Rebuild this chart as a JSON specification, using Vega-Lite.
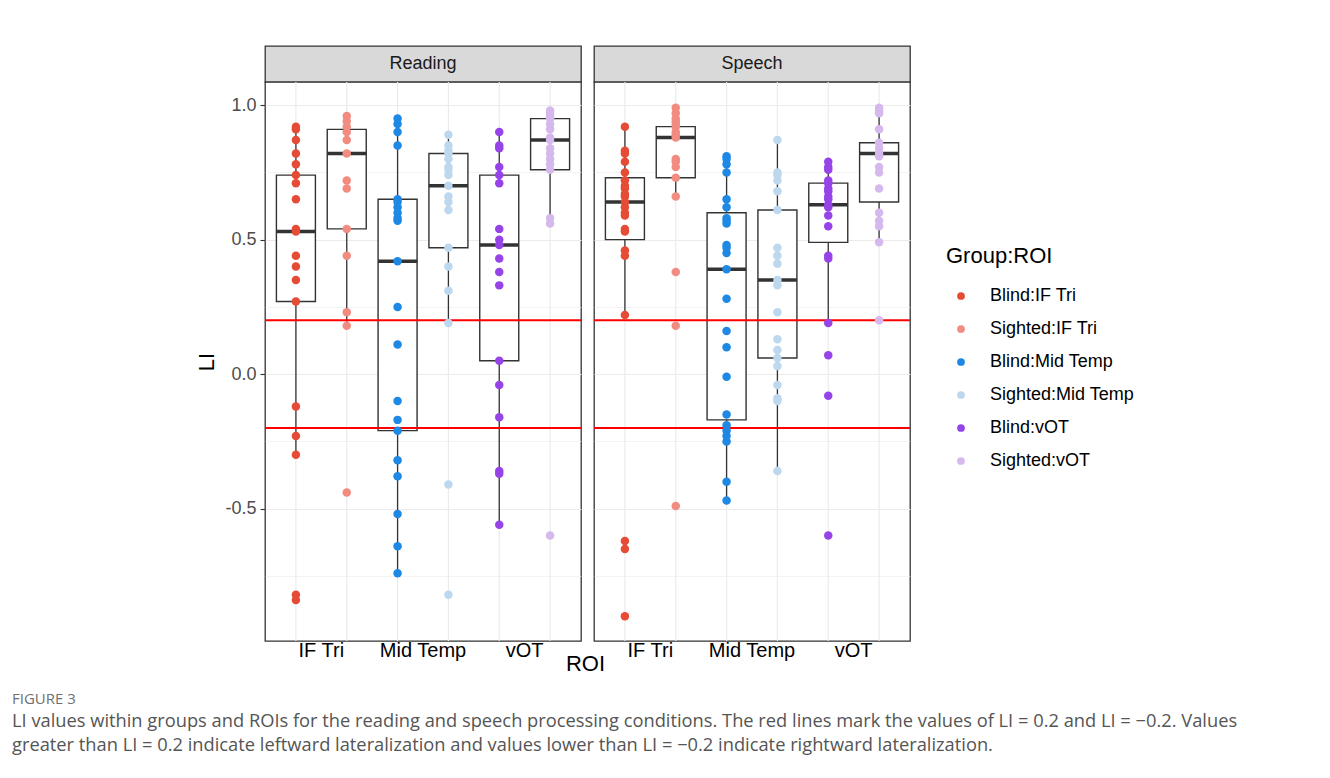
{
  "$schema": "https://vega.github.io/schema/vega-lite/v6.json",
  "autosize": {"type": "pad"},
  "padding": {"left": 12, "top": 45, "right": 5, "bottom": 5},
  "background": "white",
  "config": {
    "font": "Liberation Sans",
    "view": {"stroke": null},
    "legend": {
      "titleFontSize": 22, "titleFontWeight": "normal", "titleColor": "black", "titleFont": "Liberation Sans",
      "labelFontSize": 18, "labelColor": "black", "labelFont": "Liberation Sans",
      "symbolType": "circle", "symbolSize": 60, "symbolStrokeWidth": 0,
      "rowPadding": 15, "labelOffset": 20, "titlePadding": 19, "padding": 0, "symbolOffset": 6
    }
  },
  "datasets": {
    "pts": [
      {"Condition":"Reading","ROI":"IF Tri","Group":"Blind","Key":"Blind:IF Tri","LI":0.92},
      {"Condition":"Reading","ROI":"IF Tri","Group":"Blind","Key":"Blind:IF Tri","LI":0.91},
      {"Condition":"Reading","ROI":"IF Tri","Group":"Blind","Key":"Blind:IF Tri","LI":0.87},
      {"Condition":"Reading","ROI":"IF Tri","Group":"Blind","Key":"Blind:IF Tri","LI":0.82},
      {"Condition":"Reading","ROI":"IF Tri","Group":"Blind","Key":"Blind:IF Tri","LI":0.78},
      {"Condition":"Reading","ROI":"IF Tri","Group":"Blind","Key":"Blind:IF Tri","LI":0.74},
      {"Condition":"Reading","ROI":"IF Tri","Group":"Blind","Key":"Blind:IF Tri","LI":0.71},
      {"Condition":"Reading","ROI":"IF Tri","Group":"Blind","Key":"Blind:IF Tri","LI":0.65},
      {"Condition":"Reading","ROI":"IF Tri","Group":"Blind","Key":"Blind:IF Tri","LI":0.54},
      {"Condition":"Reading","ROI":"IF Tri","Group":"Blind","Key":"Blind:IF Tri","LI":0.53},
      {"Condition":"Reading","ROI":"IF Tri","Group":"Blind","Key":"Blind:IF Tri","LI":0.44},
      {"Condition":"Reading","ROI":"IF Tri","Group":"Blind","Key":"Blind:IF Tri","LI":0.40},
      {"Condition":"Reading","ROI":"IF Tri","Group":"Blind","Key":"Blind:IF Tri","LI":0.35},
      {"Condition":"Reading","ROI":"IF Tri","Group":"Blind","Key":"Blind:IF Tri","LI":0.27},
      {"Condition":"Reading","ROI":"IF Tri","Group":"Blind","Key":"Blind:IF Tri","LI":-0.12},
      {"Condition":"Reading","ROI":"IF Tri","Group":"Blind","Key":"Blind:IF Tri","LI":-0.23},
      {"Condition":"Reading","ROI":"IF Tri","Group":"Blind","Key":"Blind:IF Tri","LI":-0.30},
      {"Condition":"Reading","ROI":"IF Tri","Group":"Blind","Key":"Blind:IF Tri","LI":-0.82},
      {"Condition":"Reading","ROI":"IF Tri","Group":"Blind","Key":"Blind:IF Tri","LI":-0.84},
      {"Condition":"Reading","ROI":"IF Tri","Group":"Sighted","Key":"Sighted:IF Tri","LI":0.96},
      {"Condition":"Reading","ROI":"IF Tri","Group":"Sighted","Key":"Sighted:IF Tri","LI":0.94},
      {"Condition":"Reading","ROI":"IF Tri","Group":"Sighted","Key":"Sighted:IF Tri","LI":0.92},
      {"Condition":"Reading","ROI":"IF Tri","Group":"Sighted","Key":"Sighted:IF Tri","LI":0.90},
      {"Condition":"Reading","ROI":"IF Tri","Group":"Sighted","Key":"Sighted:IF Tri","LI":0.87},
      {"Condition":"Reading","ROI":"IF Tri","Group":"Sighted","Key":"Sighted:IF Tri","LI":0.82},
      {"Condition":"Reading","ROI":"IF Tri","Group":"Sighted","Key":"Sighted:IF Tri","LI":0.72},
      {"Condition":"Reading","ROI":"IF Tri","Group":"Sighted","Key":"Sighted:IF Tri","LI":0.69},
      {"Condition":"Reading","ROI":"IF Tri","Group":"Sighted","Key":"Sighted:IF Tri","LI":0.54},
      {"Condition":"Reading","ROI":"IF Tri","Group":"Sighted","Key":"Sighted:IF Tri","LI":0.44},
      {"Condition":"Reading","ROI":"IF Tri","Group":"Sighted","Key":"Sighted:IF Tri","LI":0.23},
      {"Condition":"Reading","ROI":"IF Tri","Group":"Sighted","Key":"Sighted:IF Tri","LI":0.18},
      {"Condition":"Reading","ROI":"IF Tri","Group":"Sighted","Key":"Sighted:IF Tri","LI":-0.44},
      {"Condition":"Reading","ROI":"Mid Temp","Group":"Blind","Key":"Blind:Mid Temp","LI":0.95},
      {"Condition":"Reading","ROI":"Mid Temp","Group":"Blind","Key":"Blind:Mid Temp","LI":0.93},
      {"Condition":"Reading","ROI":"Mid Temp","Group":"Blind","Key":"Blind:Mid Temp","LI":0.90},
      {"Condition":"Reading","ROI":"Mid Temp","Group":"Blind","Key":"Blind:Mid Temp","LI":0.85},
      {"Condition":"Reading","ROI":"Mid Temp","Group":"Blind","Key":"Blind:Mid Temp","LI":0.65},
      {"Condition":"Reading","ROI":"Mid Temp","Group":"Blind","Key":"Blind:Mid Temp","LI":0.64},
      {"Condition":"Reading","ROI":"Mid Temp","Group":"Blind","Key":"Blind:Mid Temp","LI":0.62},
      {"Condition":"Reading","ROI":"Mid Temp","Group":"Blind","Key":"Blind:Mid Temp","LI":0.60},
      {"Condition":"Reading","ROI":"Mid Temp","Group":"Blind","Key":"Blind:Mid Temp","LI":0.58},
      {"Condition":"Reading","ROI":"Mid Temp","Group":"Blind","Key":"Blind:Mid Temp","LI":0.57},
      {"Condition":"Reading","ROI":"Mid Temp","Group":"Blind","Key":"Blind:Mid Temp","LI":0.42},
      {"Condition":"Reading","ROI":"Mid Temp","Group":"Blind","Key":"Blind:Mid Temp","LI":0.25},
      {"Condition":"Reading","ROI":"Mid Temp","Group":"Blind","Key":"Blind:Mid Temp","LI":0.11},
      {"Condition":"Reading","ROI":"Mid Temp","Group":"Blind","Key":"Blind:Mid Temp","LI":-0.10},
      {"Condition":"Reading","ROI":"Mid Temp","Group":"Blind","Key":"Blind:Mid Temp","LI":-0.17},
      {"Condition":"Reading","ROI":"Mid Temp","Group":"Blind","Key":"Blind:Mid Temp","LI":-0.21},
      {"Condition":"Reading","ROI":"Mid Temp","Group":"Blind","Key":"Blind:Mid Temp","LI":-0.32},
      {"Condition":"Reading","ROI":"Mid Temp","Group":"Blind","Key":"Blind:Mid Temp","LI":-0.38},
      {"Condition":"Reading","ROI":"Mid Temp","Group":"Blind","Key":"Blind:Mid Temp","LI":-0.52},
      {"Condition":"Reading","ROI":"Mid Temp","Group":"Blind","Key":"Blind:Mid Temp","LI":-0.64},
      {"Condition":"Reading","ROI":"Mid Temp","Group":"Blind","Key":"Blind:Mid Temp","LI":-0.74},
      {"Condition":"Reading","ROI":"Mid Temp","Group":"Sighted","Key":"Sighted:Mid Temp","LI":0.89},
      {"Condition":"Reading","ROI":"Mid Temp","Group":"Sighted","Key":"Sighted:Mid Temp","LI":0.85},
      {"Condition":"Reading","ROI":"Mid Temp","Group":"Sighted","Key":"Sighted:Mid Temp","LI":0.83},
      {"Condition":"Reading","ROI":"Mid Temp","Group":"Sighted","Key":"Sighted:Mid Temp","LI":0.82},
      {"Condition":"Reading","ROI":"Mid Temp","Group":"Sighted","Key":"Sighted:Mid Temp","LI":0.80},
      {"Condition":"Reading","ROI":"Mid Temp","Group":"Sighted","Key":"Sighted:Mid Temp","LI":0.77},
      {"Condition":"Reading","ROI":"Mid Temp","Group":"Sighted","Key":"Sighted:Mid Temp","LI":0.76},
      {"Condition":"Reading","ROI":"Mid Temp","Group":"Sighted","Key":"Sighted:Mid Temp","LI":0.74},
      {"Condition":"Reading","ROI":"Mid Temp","Group":"Sighted","Key":"Sighted:Mid Temp","LI":0.70},
      {"Condition":"Reading","ROI":"Mid Temp","Group":"Sighted","Key":"Sighted:Mid Temp","LI":0.66},
      {"Condition":"Reading","ROI":"Mid Temp","Group":"Sighted","Key":"Sighted:Mid Temp","LI":0.64},
      {"Condition":"Reading","ROI":"Mid Temp","Group":"Sighted","Key":"Sighted:Mid Temp","LI":0.61},
      {"Condition":"Reading","ROI":"Mid Temp","Group":"Sighted","Key":"Sighted:Mid Temp","LI":0.47},
      {"Condition":"Reading","ROI":"Mid Temp","Group":"Sighted","Key":"Sighted:Mid Temp","LI":0.40},
      {"Condition":"Reading","ROI":"Mid Temp","Group":"Sighted","Key":"Sighted:Mid Temp","LI":0.31},
      {"Condition":"Reading","ROI":"Mid Temp","Group":"Sighted","Key":"Sighted:Mid Temp","LI":0.19},
      {"Condition":"Reading","ROI":"Mid Temp","Group":"Sighted","Key":"Sighted:Mid Temp","LI":-0.41},
      {"Condition":"Reading","ROI":"Mid Temp","Group":"Sighted","Key":"Sighted:Mid Temp","LI":-0.82},
      {"Condition":"Reading","ROI":"vOT","Group":"Blind","Key":"Blind:vOT","LI":0.90},
      {"Condition":"Reading","ROI":"vOT","Group":"Blind","Key":"Blind:vOT","LI":0.85},
      {"Condition":"Reading","ROI":"vOT","Group":"Blind","Key":"Blind:vOT","LI":0.84},
      {"Condition":"Reading","ROI":"vOT","Group":"Blind","Key":"Blind:vOT","LI":0.77},
      {"Condition":"Reading","ROI":"vOT","Group":"Blind","Key":"Blind:vOT","LI":0.74},
      {"Condition":"Reading","ROI":"vOT","Group":"Blind","Key":"Blind:vOT","LI":0.71},
      {"Condition":"Reading","ROI":"vOT","Group":"Blind","Key":"Blind:vOT","LI":0.54},
      {"Condition":"Reading","ROI":"vOT","Group":"Blind","Key":"Blind:vOT","LI":0.50},
      {"Condition":"Reading","ROI":"vOT","Group":"Blind","Key":"Blind:vOT","LI":0.48},
      {"Condition":"Reading","ROI":"vOT","Group":"Blind","Key":"Blind:vOT","LI":0.43},
      {"Condition":"Reading","ROI":"vOT","Group":"Blind","Key":"Blind:vOT","LI":0.38},
      {"Condition":"Reading","ROI":"vOT","Group":"Blind","Key":"Blind:vOT","LI":0.33},
      {"Condition":"Reading","ROI":"vOT","Group":"Blind","Key":"Blind:vOT","LI":0.05},
      {"Condition":"Reading","ROI":"vOT","Group":"Blind","Key":"Blind:vOT","LI":-0.04},
      {"Condition":"Reading","ROI":"vOT","Group":"Blind","Key":"Blind:vOT","LI":-0.16},
      {"Condition":"Reading","ROI":"vOT","Group":"Blind","Key":"Blind:vOT","LI":-0.36},
      {"Condition":"Reading","ROI":"vOT","Group":"Blind","Key":"Blind:vOT","LI":-0.37},
      {"Condition":"Reading","ROI":"vOT","Group":"Blind","Key":"Blind:vOT","LI":-0.56},
      {"Condition":"Reading","ROI":"vOT","Group":"Sighted","Key":"Sighted:vOT","LI":0.98},
      {"Condition":"Reading","ROI":"vOT","Group":"Sighted","Key":"Sighted:vOT","LI":0.97},
      {"Condition":"Reading","ROI":"vOT","Group":"Sighted","Key":"Sighted:vOT","LI":0.96},
      {"Condition":"Reading","ROI":"vOT","Group":"Sighted","Key":"Sighted:vOT","LI":0.95},
      {"Condition":"Reading","ROI":"vOT","Group":"Sighted","Key":"Sighted:vOT","LI":0.93},
      {"Condition":"Reading","ROI":"vOT","Group":"Sighted","Key":"Sighted:vOT","LI":0.91},
      {"Condition":"Reading","ROI":"vOT","Group":"Sighted","Key":"Sighted:vOT","LI":0.88},
      {"Condition":"Reading","ROI":"vOT","Group":"Sighted","Key":"Sighted:vOT","LI":0.87},
      {"Condition":"Reading","ROI":"vOT","Group":"Sighted","Key":"Sighted:vOT","LI":0.84},
      {"Condition":"Reading","ROI":"vOT","Group":"Sighted","Key":"Sighted:vOT","LI":0.82},
      {"Condition":"Reading","ROI":"vOT","Group":"Sighted","Key":"Sighted:vOT","LI":0.80},
      {"Condition":"Reading","ROI":"vOT","Group":"Sighted","Key":"Sighted:vOT","LI":0.78},
      {"Condition":"Reading","ROI":"vOT","Group":"Sighted","Key":"Sighted:vOT","LI":0.76},
      {"Condition":"Reading","ROI":"vOT","Group":"Sighted","Key":"Sighted:vOT","LI":0.58},
      {"Condition":"Reading","ROI":"vOT","Group":"Sighted","Key":"Sighted:vOT","LI":0.56},
      {"Condition":"Reading","ROI":"vOT","Group":"Sighted","Key":"Sighted:vOT","LI":-0.60},
      {"Condition":"Speech","ROI":"IF Tri","Group":"Blind","Key":"Blind:IF Tri","LI":0.92},
      {"Condition":"Speech","ROI":"IF Tri","Group":"Blind","Key":"Blind:IF Tri","LI":0.83},
      {"Condition":"Speech","ROI":"IF Tri","Group":"Blind","Key":"Blind:IF Tri","LI":0.82},
      {"Condition":"Speech","ROI":"IF Tri","Group":"Blind","Key":"Blind:IF Tri","LI":0.79},
      {"Condition":"Speech","ROI":"IF Tri","Group":"Blind","Key":"Blind:IF Tri","LI":0.75},
      {"Condition":"Speech","ROI":"IF Tri","Group":"Blind","Key":"Blind:IF Tri","LI":0.72},
      {"Condition":"Speech","ROI":"IF Tri","Group":"Blind","Key":"Blind:IF Tri","LI":0.70},
      {"Condition":"Speech","ROI":"IF Tri","Group":"Blind","Key":"Blind:IF Tri","LI":0.69},
      {"Condition":"Speech","ROI":"IF Tri","Group":"Blind","Key":"Blind:IF Tri","LI":0.67},
      {"Condition":"Speech","ROI":"IF Tri","Group":"Blind","Key":"Blind:IF Tri","LI":0.66},
      {"Condition":"Speech","ROI":"IF Tri","Group":"Blind","Key":"Blind:IF Tri","LI":0.64},
      {"Condition":"Speech","ROI":"IF Tri","Group":"Blind","Key":"Blind:IF Tri","LI":0.62},
      {"Condition":"Speech","ROI":"IF Tri","Group":"Blind","Key":"Blind:IF Tri","LI":0.60},
      {"Condition":"Speech","ROI":"IF Tri","Group":"Blind","Key":"Blind:IF Tri","LI":0.59},
      {"Condition":"Speech","ROI":"IF Tri","Group":"Blind","Key":"Blind:IF Tri","LI":0.54},
      {"Condition":"Speech","ROI":"IF Tri","Group":"Blind","Key":"Blind:IF Tri","LI":0.53},
      {"Condition":"Speech","ROI":"IF Tri","Group":"Blind","Key":"Blind:IF Tri","LI":0.46},
      {"Condition":"Speech","ROI":"IF Tri","Group":"Blind","Key":"Blind:IF Tri","LI":0.44},
      {"Condition":"Speech","ROI":"IF Tri","Group":"Blind","Key":"Blind:IF Tri","LI":0.22},
      {"Condition":"Speech","ROI":"IF Tri","Group":"Blind","Key":"Blind:IF Tri","LI":-0.62},
      {"Condition":"Speech","ROI":"IF Tri","Group":"Blind","Key":"Blind:IF Tri","LI":-0.65},
      {"Condition":"Speech","ROI":"IF Tri","Group":"Blind","Key":"Blind:IF Tri","LI":-0.90},
      {"Condition":"Speech","ROI":"IF Tri","Group":"Sighted","Key":"Sighted:IF Tri","LI":0.99},
      {"Condition":"Speech","ROI":"IF Tri","Group":"Sighted","Key":"Sighted:IF Tri","LI":0.97},
      {"Condition":"Speech","ROI":"IF Tri","Group":"Sighted","Key":"Sighted:IF Tri","LI":0.95},
      {"Condition":"Speech","ROI":"IF Tri","Group":"Sighted","Key":"Sighted:IF Tri","LI":0.94},
      {"Condition":"Speech","ROI":"IF Tri","Group":"Sighted","Key":"Sighted:IF Tri","LI":0.93},
      {"Condition":"Speech","ROI":"IF Tri","Group":"Sighted","Key":"Sighted:IF Tri","LI":0.92},
      {"Condition":"Speech","ROI":"IF Tri","Group":"Sighted","Key":"Sighted:IF Tri","LI":0.90},
      {"Condition":"Speech","ROI":"IF Tri","Group":"Sighted","Key":"Sighted:IF Tri","LI":0.89},
      {"Condition":"Speech","ROI":"IF Tri","Group":"Sighted","Key":"Sighted:IF Tri","LI":0.88},
      {"Condition":"Speech","ROI":"IF Tri","Group":"Sighted","Key":"Sighted:IF Tri","LI":0.80},
      {"Condition":"Speech","ROI":"IF Tri","Group":"Sighted","Key":"Sighted:IF Tri","LI":0.79},
      {"Condition":"Speech","ROI":"IF Tri","Group":"Sighted","Key":"Sighted:IF Tri","LI":0.77},
      {"Condition":"Speech","ROI":"IF Tri","Group":"Sighted","Key":"Sighted:IF Tri","LI":0.73},
      {"Condition":"Speech","ROI":"IF Tri","Group":"Sighted","Key":"Sighted:IF Tri","LI":0.66},
      {"Condition":"Speech","ROI":"IF Tri","Group":"Sighted","Key":"Sighted:IF Tri","LI":0.38},
      {"Condition":"Speech","ROI":"IF Tri","Group":"Sighted","Key":"Sighted:IF Tri","LI":0.18},
      {"Condition":"Speech","ROI":"IF Tri","Group":"Sighted","Key":"Sighted:IF Tri","LI":-0.49},
      {"Condition":"Speech","ROI":"Mid Temp","Group":"Blind","Key":"Blind:Mid Temp","LI":0.81},
      {"Condition":"Speech","ROI":"Mid Temp","Group":"Blind","Key":"Blind:Mid Temp","LI":0.80},
      {"Condition":"Speech","ROI":"Mid Temp","Group":"Blind","Key":"Blind:Mid Temp","LI":0.78},
      {"Condition":"Speech","ROI":"Mid Temp","Group":"Blind","Key":"Blind:Mid Temp","LI":0.75},
      {"Condition":"Speech","ROI":"Mid Temp","Group":"Blind","Key":"Blind:Mid Temp","LI":0.65},
      {"Condition":"Speech","ROI":"Mid Temp","Group":"Blind","Key":"Blind:Mid Temp","LI":0.62},
      {"Condition":"Speech","ROI":"Mid Temp","Group":"Blind","Key":"Blind:Mid Temp","LI":0.58},
      {"Condition":"Speech","ROI":"Mid Temp","Group":"Blind","Key":"Blind:Mid Temp","LI":0.57},
      {"Condition":"Speech","ROI":"Mid Temp","Group":"Blind","Key":"Blind:Mid Temp","LI":0.56},
      {"Condition":"Speech","ROI":"Mid Temp","Group":"Blind","Key":"Blind:Mid Temp","LI":0.48},
      {"Condition":"Speech","ROI":"Mid Temp","Group":"Blind","Key":"Blind:Mid Temp","LI":0.47},
      {"Condition":"Speech","ROI":"Mid Temp","Group":"Blind","Key":"Blind:Mid Temp","LI":0.45},
      {"Condition":"Speech","ROI":"Mid Temp","Group":"Blind","Key":"Blind:Mid Temp","LI":0.39},
      {"Condition":"Speech","ROI":"Mid Temp","Group":"Blind","Key":"Blind:Mid Temp","LI":0.28},
      {"Condition":"Speech","ROI":"Mid Temp","Group":"Blind","Key":"Blind:Mid Temp","LI":0.16},
      {"Condition":"Speech","ROI":"Mid Temp","Group":"Blind","Key":"Blind:Mid Temp","LI":0.10},
      {"Condition":"Speech","ROI":"Mid Temp","Group":"Blind","Key":"Blind:Mid Temp","LI":-0.01},
      {"Condition":"Speech","ROI":"Mid Temp","Group":"Blind","Key":"Blind:Mid Temp","LI":-0.15},
      {"Condition":"Speech","ROI":"Mid Temp","Group":"Blind","Key":"Blind:Mid Temp","LI":-0.19},
      {"Condition":"Speech","ROI":"Mid Temp","Group":"Blind","Key":"Blind:Mid Temp","LI":-0.21},
      {"Condition":"Speech","ROI":"Mid Temp","Group":"Blind","Key":"Blind:Mid Temp","LI":-0.23},
      {"Condition":"Speech","ROI":"Mid Temp","Group":"Blind","Key":"Blind:Mid Temp","LI":-0.25},
      {"Condition":"Speech","ROI":"Mid Temp","Group":"Blind","Key":"Blind:Mid Temp","LI":-0.40},
      {"Condition":"Speech","ROI":"Mid Temp","Group":"Blind","Key":"Blind:Mid Temp","LI":-0.47},
      {"Condition":"Speech","ROI":"Mid Temp","Group":"Sighted","Key":"Sighted:Mid Temp","LI":0.87},
      {"Condition":"Speech","ROI":"Mid Temp","Group":"Sighted","Key":"Sighted:Mid Temp","LI":0.75},
      {"Condition":"Speech","ROI":"Mid Temp","Group":"Sighted","Key":"Sighted:Mid Temp","LI":0.74},
      {"Condition":"Speech","ROI":"Mid Temp","Group":"Sighted","Key":"Sighted:Mid Temp","LI":0.72},
      {"Condition":"Speech","ROI":"Mid Temp","Group":"Sighted","Key":"Sighted:Mid Temp","LI":0.68},
      {"Condition":"Speech","ROI":"Mid Temp","Group":"Sighted","Key":"Sighted:Mid Temp","LI":0.61},
      {"Condition":"Speech","ROI":"Mid Temp","Group":"Sighted","Key":"Sighted:Mid Temp","LI":0.47},
      {"Condition":"Speech","ROI":"Mid Temp","Group":"Sighted","Key":"Sighted:Mid Temp","LI":0.44},
      {"Condition":"Speech","ROI":"Mid Temp","Group":"Sighted","Key":"Sighted:Mid Temp","LI":0.41},
      {"Condition":"Speech","ROI":"Mid Temp","Group":"Sighted","Key":"Sighted:Mid Temp","LI":0.35},
      {"Condition":"Speech","ROI":"Mid Temp","Group":"Sighted","Key":"Sighted:Mid Temp","LI":0.33},
      {"Condition":"Speech","ROI":"Mid Temp","Group":"Sighted","Key":"Sighted:Mid Temp","LI":0.23},
      {"Condition":"Speech","ROI":"Mid Temp","Group":"Sighted","Key":"Sighted:Mid Temp","LI":0.13},
      {"Condition":"Speech","ROI":"Mid Temp","Group":"Sighted","Key":"Sighted:Mid Temp","LI":0.09},
      {"Condition":"Speech","ROI":"Mid Temp","Group":"Sighted","Key":"Sighted:Mid Temp","LI":0.06},
      {"Condition":"Speech","ROI":"Mid Temp","Group":"Sighted","Key":"Sighted:Mid Temp","LI":0.03},
      {"Condition":"Speech","ROI":"Mid Temp","Group":"Sighted","Key":"Sighted:Mid Temp","LI":-0.04},
      {"Condition":"Speech","ROI":"Mid Temp","Group":"Sighted","Key":"Sighted:Mid Temp","LI":-0.09},
      {"Condition":"Speech","ROI":"Mid Temp","Group":"Sighted","Key":"Sighted:Mid Temp","LI":-0.10},
      {"Condition":"Speech","ROI":"Mid Temp","Group":"Sighted","Key":"Sighted:Mid Temp","LI":-0.36},
      {"Condition":"Speech","ROI":"vOT","Group":"Blind","Key":"Blind:vOT","LI":0.79},
      {"Condition":"Speech","ROI":"vOT","Group":"Blind","Key":"Blind:vOT","LI":0.77},
      {"Condition":"Speech","ROI":"vOT","Group":"Blind","Key":"Blind:vOT","LI":0.76},
      {"Condition":"Speech","ROI":"vOT","Group":"Blind","Key":"Blind:vOT","LI":0.72},
      {"Condition":"Speech","ROI":"vOT","Group":"Blind","Key":"Blind:vOT","LI":0.71},
      {"Condition":"Speech","ROI":"vOT","Group":"Blind","Key":"Blind:vOT","LI":0.69},
      {"Condition":"Speech","ROI":"vOT","Group":"Blind","Key":"Blind:vOT","LI":0.68},
      {"Condition":"Speech","ROI":"vOT","Group":"Blind","Key":"Blind:vOT","LI":0.66},
      {"Condition":"Speech","ROI":"vOT","Group":"Blind","Key":"Blind:vOT","LI":0.65},
      {"Condition":"Speech","ROI":"vOT","Group":"Blind","Key":"Blind:vOT","LI":0.63},
      {"Condition":"Speech","ROI":"vOT","Group":"Blind","Key":"Blind:vOT","LI":0.62},
      {"Condition":"Speech","ROI":"vOT","Group":"Blind","Key":"Blind:vOT","LI":0.59},
      {"Condition":"Speech","ROI":"vOT","Group":"Blind","Key":"Blind:vOT","LI":0.55},
      {"Condition":"Speech","ROI":"vOT","Group":"Blind","Key":"Blind:vOT","LI":0.44},
      {"Condition":"Speech","ROI":"vOT","Group":"Blind","Key":"Blind:vOT","LI":0.43},
      {"Condition":"Speech","ROI":"vOT","Group":"Blind","Key":"Blind:vOT","LI":0.19},
      {"Condition":"Speech","ROI":"vOT","Group":"Blind","Key":"Blind:vOT","LI":0.07},
      {"Condition":"Speech","ROI":"vOT","Group":"Blind","Key":"Blind:vOT","LI":-0.08},
      {"Condition":"Speech","ROI":"vOT","Group":"Blind","Key":"Blind:vOT","LI":-0.60},
      {"Condition":"Speech","ROI":"vOT","Group":"Sighted","Key":"Sighted:vOT","LI":0.99},
      {"Condition":"Speech","ROI":"vOT","Group":"Sighted","Key":"Sighted:vOT","LI":0.98},
      {"Condition":"Speech","ROI":"vOT","Group":"Sighted","Key":"Sighted:vOT","LI":0.97},
      {"Condition":"Speech","ROI":"vOT","Group":"Sighted","Key":"Sighted:vOT","LI":0.91},
      {"Condition":"Speech","ROI":"vOT","Group":"Sighted","Key":"Sighted:vOT","LI":0.86},
      {"Condition":"Speech","ROI":"vOT","Group":"Sighted","Key":"Sighted:vOT","LI":0.84},
      {"Condition":"Speech","ROI":"vOT","Group":"Sighted","Key":"Sighted:vOT","LI":0.82},
      {"Condition":"Speech","ROI":"vOT","Group":"Sighted","Key":"Sighted:vOT","LI":0.81},
      {"Condition":"Speech","ROI":"vOT","Group":"Sighted","Key":"Sighted:vOT","LI":0.77},
      {"Condition":"Speech","ROI":"vOT","Group":"Sighted","Key":"Sighted:vOT","LI":0.75},
      {"Condition":"Speech","ROI":"vOT","Group":"Sighted","Key":"Sighted:vOT","LI":0.69},
      {"Condition":"Speech","ROI":"vOT","Group":"Sighted","Key":"Sighted:vOT","LI":0.60},
      {"Condition":"Speech","ROI":"vOT","Group":"Sighted","Key":"Sighted:vOT","LI":0.57},
      {"Condition":"Speech","ROI":"vOT","Group":"Sighted","Key":"Sighted:vOT","LI":0.55},
      {"Condition":"Speech","ROI":"vOT","Group":"Sighted","Key":"Sighted:vOT","LI":0.49},
      {"Condition":"Speech","ROI":"vOT","Group":"Sighted","Key":"Sighted:vOT","LI":0.20}
    ],
    "box": [
      {"Condition":"Reading","ROI":"IF Tri","Group":"Blind","lower":-0.30,"q1":0.27,"median":0.53,"q3":0.74,"upper":0.92},
      {"Condition":"Reading","ROI":"IF Tri","Group":"Sighted","lower":0.18,"q1":0.54,"median":0.82,"q3":0.91,"upper":0.96},
      {"Condition":"Reading","ROI":"Mid Temp","Group":"Blind","lower":-0.74,"q1":-0.21,"median":0.42,"q3":0.65,"upper":0.95},
      {"Condition":"Reading","ROI":"Mid Temp","Group":"Sighted","lower":0.19,"q1":0.47,"median":0.70,"q3":0.82,"upper":0.89},
      {"Condition":"Reading","ROI":"vOT","Group":"Blind","lower":-0.56,"q1":0.05,"median":0.48,"q3":0.74,"upper":0.90},
      {"Condition":"Reading","ROI":"vOT","Group":"Sighted","lower":0.56,"q1":0.76,"median":0.87,"q3":0.95,"upper":0.98},
      {"Condition":"Speech","ROI":"IF Tri","Group":"Blind","lower":0.22,"q1":0.50,"median":0.64,"q3":0.73,"upper":0.92},
      {"Condition":"Speech","ROI":"IF Tri","Group":"Sighted","lower":0.66,"q1":0.73,"median":0.88,"q3":0.92,"upper":0.99},
      {"Condition":"Speech","ROI":"Mid Temp","Group":"Blind","lower":-0.47,"q1":-0.17,"median":0.39,"q3":0.60,"upper":0.81},
      {"Condition":"Speech","ROI":"Mid Temp","Group":"Sighted","lower":-0.36,"q1":0.06,"median":0.35,"q3":0.61,"upper":0.87},
      {"Condition":"Speech","ROI":"vOT","Group":"Blind","lower":0.19,"q1":0.49,"median":0.63,"q3":0.71,"upper":0.79},
      {"Condition":"Speech","ROI":"vOT","Group":"Sighted","lower":0.49,"q1":0.64,"median":0.82,"q3":0.86,"upper":0.99}
    ],
    "thr": [{"LI": 0.2}, {"LI": -0.2}]
  },
  "title": {
    "text": "FIGURE 3",
    "subtitle": [
      "LI values within groups and ROIs for the reading and speech processing conditions. The red lines mark the values of LI = 0.2 and LI = −0.2. Values",
      "greater than LI = 0.2 indicate leftward lateralization and values lower than LI = −0.2 indicate rightward lateralization."
    ],
    "orient": "bottom", "anchor": "start", "frame": "group", "dx": -253, "offset": 17,
    "font": "Open Sans", "fontSize": 15, "fontWeight": "normal", "color": "#707070",
    "subtitleFont": "Open Sans", "subtitleFontSize": 18.3, "subtitleColor": "#555555", "subtitleLineHeight": 24, "subtitlePadding": 6
  },
  "columns": 2,
  "spacing": {"row": 0, "column": 13},
  "bounds": "flush",
  "concat": [
    {
      "width": 316, "height": 36,
      "view": {"fill": "#d9d9d9", "stroke": "#333333", "strokeWidth": 1.3},
      "data": {"values": [{"Condition": "Reading"}]},
      "mark": {"type": "text", "fontSize": 18, "font": "Liberation Sans", "color": "#1a1a1a", "baseline": "middle"},
      "encoding": {"text": {"field": "Condition"}}
    },
    {
      "width": 316, "height": 36,
      "view": {"fill": "#d9d9d9", "stroke": "#333333", "strokeWidth": 1.3},
      "data": {"values": [{"Condition": "Speech"}]},
      "mark": {"type": "text", "fontSize": 18, "font": "Liberation Sans", "color": "#1a1a1a", "baseline": "middle"},
      "encoding": {"text": {"field": "Condition"}}
    },
    {
      "width": 316, "height": 559,
      "view": {"fill": "white", "stroke": "#333333", "strokeWidth": 1.3},
      "layer": [
        {
          "data": {"name": "pts"},
          "transform": [{"filter": "datum.Condition == 'Reading'"}],
          "mark": {"type": "circle", "size": 0, "opacity": 0},
          "encoding": {
            "x": {"field": "ROI", "type": "nominal", "scale": {"domain": ["IF Tri", "Mid Temp", "vOT"], "paddingInner": 0, "paddingOuter": 0.054},
              "axis": {"title": "ROI", "titleX": 320, "titleY": 29, "titleBaseline": "alphabetic", "titleFontSize": 22, "titleFontWeight": "normal", "titleColor": "black",
                "labelFontSize": 20, "labelColor": "black", "labelAngle": 0, "labelBaseline": "alphabetic", "labelPadding": 15,
                "ticks": false, "tickSize": 0, "domain": false, "grid": false}},
            "xOffset": {"field": "Group", "type": "nominal", "scale": {"domain": ["Blind", "Sighted"], "paddingInner": 0, "paddingOuter": 0}},
            "y": {"field": "LI", "type": "quantitative", "scale": {"domain": [-0.992, 1.086], "nice": false, "zero": false},
              "axis": {"title": "LI", "values": [-0.75, -0.5, -0.25, 0, 0.25, 0.5, 0.75, 1],
                "labelExpr": "abs(datum.value*4) % 2 == 1 ? '' : (datum.value < 0 ? '-' : '') + format(abs(datum.value), '.1f')",
                "grid": true, "gridColor": "#ebebeb",
                "gridWidth": {"condition": {"test": "abs(datum.value*4) % 2 == 1", "value": 0.6}, "value": 1.2},
                "tickOpacity": {"condition": {"test": "abs(datum.value*4) % 2 == 1", "value": 0}, "value": 1},
                "tickSize": 5, "tickColor": "#333333", "tickWidth": 1.1, "labelPadding": 4,
                "labelFontSize": 18, "labelColor": "#4d4d4d",
                "titleFontSize": 22, "titleFontWeight": "normal", "titleColor": "black", "titlePadding": 6,
                "domain": false}}
          }
        },
        {
          "data": {"name": "box"},
          "transform": [{"filter": "datum.Condition == 'Reading'"}],
          "mark": {"type": "rule", "color": "#ebebeb", "strokeWidth": 1.2},
          "encoding": {
            "x": {"field": "ROI", "type": "nominal"},
            "xOffset": {"field": "Group", "type": "nominal"}
          }
        },
        {
          "data": {"name": "box"},
          "transform": [{"filter": "datum.Condition == 'Reading'"}],
          "mark": {"type": "rule", "color": "#333333", "strokeWidth": 1.3},
          "encoding": {
            "x": {"field": "ROI", "type": "nominal"},
            "xOffset": {"field": "Group", "type": "nominal"},
            "y": {"field": "lower", "type": "quantitative", "title": "LI"},
            "y2": {"field": "upper"}
          }
        },
        {
          "data": {"name": "box"},
          "transform": [{"filter": "datum.Condition == 'Reading'"}],
          "mark": {"type": "bar", "fill": "white", "stroke": "#333333", "strokeWidth": 1.4, "width": 39},
          "encoding": {
            "x": {"field": "ROI", "type": "nominal"},
            "xOffset": {"field": "Group", "type": "nominal"},
            "y": {"field": "q1", "type": "quantitative", "title": "LI"},
            "y2": {"field": "q3"}
          }
        },
        {
          "data": {"name": "box"},
          "transform": [{"filter": "datum.Condition == 'Reading'"}],
          "mark": {"type": "tick", "color": "#333333", "thickness": 3.5, "size": 39, "opacity": 1},
          "encoding": {
            "x": {"field": "ROI", "type": "nominal"},
            "xOffset": {"field": "Group", "type": "nominal"},
            "y": {"field": "median", "type": "quantitative", "title": "LI"}
          }
        },
        {
          "data": {"name": "thr"},
          "mark": {"type": "rule", "color": "#ff0000", "strokeWidth": 2},
          "encoding": {
            "y": {"field": "LI", "type": "quantitative", "title": "LI"}
          }
        },
        {
          "data": {"name": "pts"},
          "transform": [{"filter": "datum.Condition == 'Reading'"}],
          "mark": {"type": "circle", "size": 72, "opacity": 1},
          "encoding": {
            "x": {"field": "ROI", "type": "nominal"},
            "xOffset": {"field": "Group", "type": "nominal"},
            "y": {"field": "LI", "type": "quantitative", "title": "LI"},
            "color": {"field": "Key", "type": "nominal",
              "scale": {"domain": ["Blind:IF Tri", "Sighted:IF Tri", "Blind:Mid Temp", "Sighted:Mid Temp", "Blind:vOT", "Sighted:vOT"],
                "range": ["#E64B35", "#F28B80", "#1E88E5", "#BDD7EE", "#9643E8", "#D5B8EC"]},
              "legend": {"title": "Group:ROI", "orient": "none", "legendX": 681, "legendY": 200}}
          }
        }
      ]
    },
    {
      "width": 316, "height": 559,
      "view": {"fill": "white", "stroke": "#333333", "strokeWidth": 1.3},
      "layer": [
        {
          "data": {"name": "pts"},
          "transform": [{"filter": "datum.Condition == 'Speech'"}],
          "mark": {"type": "circle", "size": 0, "opacity": 0},
          "encoding": {
            "x": {"field": "ROI", "type": "nominal", "scale": {"domain": ["IF Tri", "Mid Temp", "vOT"], "paddingInner": 0, "paddingOuter": 0.054},
              "axis": {"title": null,
                "labelFontSize": 20, "labelColor": "black", "labelAngle": 0, "labelBaseline": "alphabetic", "labelPadding": 15,
                "ticks": false, "tickSize": 0, "domain": false, "grid": false}},
            "xOffset": {"field": "Group", "type": "nominal", "scale": {"domain": ["Blind", "Sighted"], "paddingInner": 0, "paddingOuter": 0}},
            "y": {"field": "LI", "type": "quantitative", "scale": {"domain": [-0.992, 1.086], "nice": false, "zero": false},
              "axis": {"title": null, "values": [-0.75, -0.5, -0.25, 0, 0.25, 0.5, 0.75, 1],
                "labels": false, "ticks": false, "grid": true, "gridColor": "#ebebeb",
                "gridWidth": {"condition": {"test": "abs(datum.value*4) % 2 == 1", "value": 0.6}, "value": 1.2},
                "domain": false}}
          }
        },
        {
          "data": {"name": "box"},
          "transform": [{"filter": "datum.Condition == 'Speech'"}],
          "mark": {"type": "rule", "color": "#ebebeb", "strokeWidth": 1.2},
          "encoding": {
            "x": {"field": "ROI", "type": "nominal"},
            "xOffset": {"field": "Group", "type": "nominal"}
          }
        },
        {
          "data": {"name": "box"},
          "transform": [{"filter": "datum.Condition == 'Speech'"}],
          "mark": {"type": "rule", "color": "#333333", "strokeWidth": 1.3},
          "encoding": {
            "x": {"field": "ROI", "type": "nominal"},
            "xOffset": {"field": "Group", "type": "nominal"},
            "y": {"field": "lower", "type": "quantitative", "title": null},
            "y2": {"field": "upper"}
          }
        },
        {
          "data": {"name": "box"},
          "transform": [{"filter": "datum.Condition == 'Speech'"}],
          "mark": {"type": "bar", "fill": "white", "stroke": "#333333", "strokeWidth": 1.4, "width": 39},
          "encoding": {
            "x": {"field": "ROI", "type": "nominal"},
            "xOffset": {"field": "Group", "type": "nominal"},
            "y": {"field": "q1", "type": "quantitative", "title": null},
            "y2": {"field": "q3"}
          }
        },
        {
          "data": {"name": "box"},
          "transform": [{"filter": "datum.Condition == 'Speech'"}],
          "mark": {"type": "tick", "color": "#333333", "thickness": 3.5, "size": 39, "opacity": 1},
          "encoding": {
            "x": {"field": "ROI", "type": "nominal"},
            "xOffset": {"field": "Group", "type": "nominal"},
            "y": {"field": "median", "type": "quantitative", "title": null}
          }
        },
        {
          "data": {"name": "thr"},
          "mark": {"type": "rule", "color": "#ff0000", "strokeWidth": 2},
          "encoding": {
            "y": {"field": "LI", "type": "quantitative", "title": null}
          }
        },
        {
          "data": {"name": "pts"},
          "transform": [{"filter": "datum.Condition == 'Speech'"}],
          "mark": {"type": "circle", "size": 72, "opacity": 1},
          "encoding": {
            "x": {"field": "ROI", "type": "nominal"},
            "xOffset": {"field": "Group", "type": "nominal"},
            "y": {"field": "LI", "type": "quantitative", "title": null},
            "color": {"field": "Key", "type": "nominal",
              "scale": {"domain": ["Blind:IF Tri", "Sighted:IF Tri", "Blind:Mid Temp", "Sighted:Mid Temp", "Blind:vOT", "Sighted:vOT"],
                "range": ["#E64B35", "#F28B80", "#1E88E5", "#BDD7EE", "#9643E8", "#D5B8EC"]},
              "legend": {"title": "Group:ROI", "orient": "none", "legendX": 681, "legendY": 200}}
          }
        }
      ]
    }
  ]
}
